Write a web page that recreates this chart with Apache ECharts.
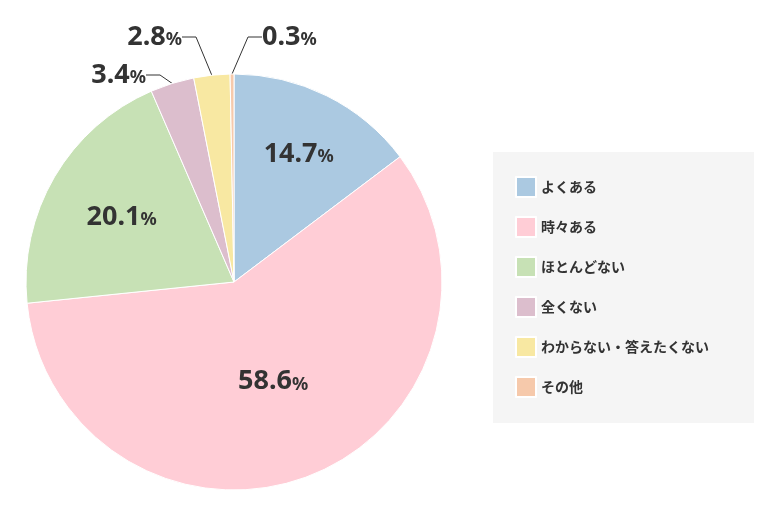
<!DOCTYPE html>
<html>
<head>
<meta charset="utf-8">
<script src="https://cdn.jsdelivr.net/npm/echarts@6/dist/echarts.min.js"></script>
<style>html,body{margin:0;padding:0;background:#fff}#chart{width:780px;height:509px}</style>
</head>
<body>
<div id="chart"></div>
<script>
var categories = ['よくある', '時々ある', 'ほとんどない', '全くない', 'わからない・答えたくない', 'その他'];
var values = [14.7, 58.6, 20.1, 3.4, 2.8, 0.3];
var colors = ['#abc9e1', '#ffcdd6', '#c7e1b5', '#dcbecd', '#f8e8a2', '#f6c9ab'];
var labelOffsets = [[17, -32], [0, 0], [-20, -11], null, null, null];
// outside label placement: [x, y, align]
var outsideLabels = { 3: [146, 75, 'right'], 4: [182, 37, 'right'], 5: [262, 37, 'left'] };

var chart = echarts.init(document.getElementById('chart'));

var data = categories.map(function (name, i) {
    var item = { name: name, value: values[i], itemStyle: { color: colors[i] } };
    if (labelOffsets[i]) {
        item.label = { position: 'inner', offset: labelOffsets[i] };
    } else {
        item.label = { position: 'outside' };
        item.labelLine = { show: true, length: 10, length2: 14 };
    }
    return item;
});

chart.setOption({
    animation: false,
    legend: {
        orient: 'vertical',
        left: 493,
        top: 152,
        padding: [24, 45, 25, 22],
        backgroundColor: '#f5f5f5',
        itemWidth: 20,
        itemHeight: 20,
        itemGap: 18,
        icon: 'rect',
        textStyle: { fontSize: 14, color: '#333', fontWeight: 'bold', fontFamily: 'Noto Sans CJK JP' },
        data: categories
    },
    series: [{
        type: 'pie',
        center: [234, 282],
        radius: 208,
        startAngle: 90,
        clockwise: true,
        avoidLabelOverlap: false,
        labelLayout: function (p) {
            var o = outsideLabels[p.dataIndex];
            if (!o) return {};
            return { x: o[0], y: o[1], align: o[2], verticalAlign: 'middle', hideOverlap: false };
        },
        itemStyle: { borderColor: '#fff', borderWidth: 1 },
        labelLine: { lineStyle: { color: '#333', width: 1 } },
        label: {
            formatter: function (p) { return '{n|' + p.value.toFixed(1) + '}{p|%}'; },
            rich: {
                n: { fontSize: 27, fontWeight: 'bold', color: '#333', fontFamily: 'Noto Sans' },
                p: { fontSize: 18, fontWeight: 'bold', color: '#333', fontFamily: 'Noto Sans', padding: [6, 0, 0, 0] }
            }
        },
        data: data
    }]
});
</script>
</body>
</html>
